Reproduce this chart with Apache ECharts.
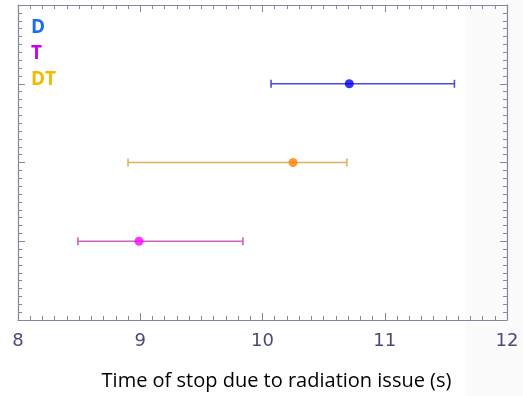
<!DOCTYPE html>
<html>
<head>
<meta charset="utf-8">
<script src="https://cdn.jsdelivr.net/npm/echarts@6/dist/echarts.min.js"></script>
<style>
  html, body { margin: 0; padding: 0; background: #fff; }
  #chart { width: 523px; height: 396px; }
</style>
</head>
<body>
<div id="chart"></div>
<script>
// groups, bottom to top
const groups = ["T", "DT", "D"];
const yPos = [1, 2, 3];
const centers = [8.99, 10.25, 10.71];
const lows = [8.49, 8.90, 10.07];
const highs = [9.84, 10.69, 11.57];
const xTicks = [8, 9, 10, 11, 12];

const pointColors = ["#ff00ff", "#ff8000", "#0000e6"];
const barColors = ["#cc66bb", "#e0b060", "#4a4ae0"];
const labelColors = ["#cc00ee", "#f5b800", "#1a6cf0"];

const chart = echarts.init(document.getElementById("chart"));

const axisColor = "#8585a3";
const tickBase = {
  axisLine: { show: true, onZero: false, lineStyle: { color: axisColor, width: 1.2 } },
  axisTick: { show: true, inside: true, length: 7, lineStyle: { color: axisColor } },
  minorTick: { show: true, splitNumber: 10, length: 4, lineStyle: { color: axisColor } },
  splitLine: { show: false },
};

const option = {
  animation: false,
  graphic: [
    // faint grey strip on the right edge of the picture
    { type: "rect", z: -10, shape: { x: 465, y: 0, width: 58, height: 396 }, style: { fill: "#fbfbfc" } },
    { type: "text", left: 31, top: 18, style: { text: "D", fill: labelColors[2], font: "bold 19px 'Open Sans'" } },
    { type: "text", left: 31, top: 44, style: { text: "T", fill: labelColors[0], font: "bold 19px 'Open Sans'" } },
    { type: "text", left: 31, top: 70, style: { text: "DT", fill: labelColors[1], font: "bold 19px 'Open Sans'" } },
  ],
  grid: { left: 18, right: 16, top: 5, bottom: 76 },
  xAxis: [
    Object.assign({
      type: "value", min: xTicks[0], max: xTicks[xTicks.length - 1], interval: 1,
      position: "bottom",
      name: "Time of stop due to radiation issue (s)",
      nameLocation: "middle", nameGap: 51,
      nameTextStyle: { color: "#000", fontSize: 20, fontFamily: "Open Sans", padding: [0, 0, 0, 28] },
      axisLabel: { color: "#4a4a7a", fontSize: 18, margin: 12, fontFamily: "DejaVu Sans" },
    }, tickBase),
    Object.assign({
      type: "value", min: xTicks[0], max: xTicks[xTicks.length - 1], interval: 1,
      position: "top", axisLabel: { show: false },
    }, tickBase),
  ],
  yAxis: [
    Object.assign({ type: "value", min: 0, max: 4, interval: 1, position: "left", axisLabel: { show: false } }, tickBase),
    Object.assign({ type: "value", min: 0, max: 4, interval: 1, position: "right", axisLabel: { show: false } }, tickBase),
  ],
  series: [
    {
      type: "custom",
      data: groups.map((g, i) => [lows[i], highs[i], yPos[i], i]),
      renderItem: function (params, api) {
        const i = api.value(3);
        const a = api.coord([api.value(0), api.value(2)]);
        const b = api.coord([api.value(1), api.value(2)]);
        const cap = 4;
        const style = { stroke: barColors[i], lineWidth: 1.6 };
        return {
          type: "group",
          children: [
            { type: "line", shape: { x1: a[0], y1: a[1], x2: b[0], y2: b[1] }, style: style },
            { type: "line", shape: { x1: a[0], y1: a[1] - cap, x2: a[0], y2: a[1] + cap }, style: style },
            { type: "line", shape: { x1: b[0], y1: b[1] - cap, x2: b[0], y2: b[1] + cap }, style: style },
          ],
        };
      },
      z: 2,
    },
    {
      type: "scatter",
      symbolSize: 9,
      data: groups.map((g, i) => ({ value: [centers[i], yPos[i]], itemStyle: { color: pointColors[i] } })),
      z: 3,
    },
  ],
};

chart.setOption(option);
</script>
</body>
</html>
